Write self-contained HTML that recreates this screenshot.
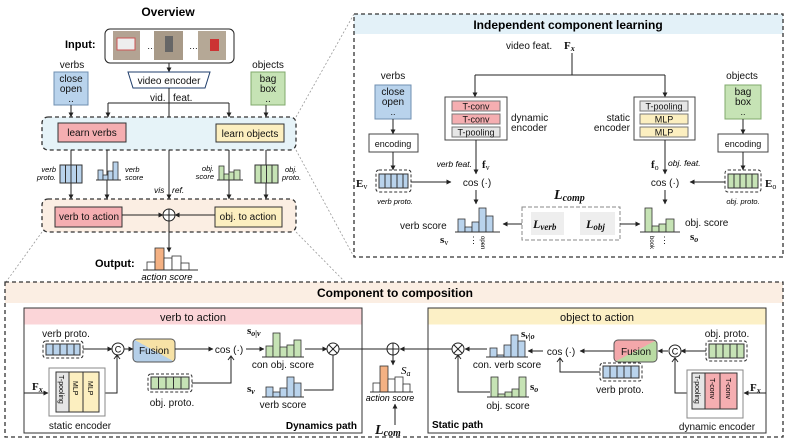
<!DOCTYPE html>
<html><head><meta charset="utf-8"><style>
html,body{margin:0;padding:0;background:#fff}
svg{display:block;font-family:"Liberation Sans",sans-serif}
.t{font-size:10px;fill:#111}
.s{font-size:9px;fill:#111}
.i{font-style:italic}
.m{font-family:"Liberation Serif",serif;font-weight:bold;fill:#111}
.b{font-weight:bold}
</style></head><body>
<svg width="789" height="442" viewBox="0 0 789 442" xmlns="http://www.w3.org/2000/svg">
<defs>
<marker id="a" viewBox="0 0 6 6" refX="5.5" refY="3" markerWidth="5" markerHeight="5" orient="auto"><path d="M0,0L6,3L0,6z" fill="#222"/></marker>
<linearGradient id="fv" x1="0" y1="1" x2="1" y2="0"><stop offset="0.5" stop-color="#b5cfe8"/><stop offset="0.5" stop-color="#f7e2a6"/></linearGradient>
<linearGradient id="fo" x1="0" y1="0" x2="1" y2="1"><stop offset="0.5" stop-color="#f3a7aa"/><stop offset="0.5" stop-color="#b9dba3"/></linearGradient>
</defs>
<g stroke="#222" stroke-width="1" fill="none">
<!-- zoom guide lines -->
<g stroke="#999" stroke-dasharray="2,2" stroke-width="0.8">
<line x1="296" y1="117" x2="354" y2="14"/><line x1="296" y1="150" x2="354" y2="257"/>
<line x1="42" y1="232" x2="6" y2="282"/><line x1="296" y1="232" x2="345" y2="282"/>
</g>
</g>

<!-- ================= OVERVIEW ================= -->
<text x="168" y="16" text-anchor="middle" class="b" font-size="12">Overview</text>
<text x="65" y="48" class="b" font-size="11">Input:</text>
<rect x="105" y="29" width="129" height="34" rx="5" fill="#fff" stroke="#222"/>
<rect x="113" y="31" width="27" height="29" fill="#b3a393"/><rect x="117" y="38" width="18" height="12" fill="#eee" stroke="#c55" stroke-width="1"/>
<text x="147" y="49" class="s">…</text>
<rect x="154" y="31" width="29" height="29" fill="#a89a88"/><rect x="165" y="36" width="8" height="16" fill="#666"/>
<text x="189" y="49" class="s">…</text>
<rect x="198" y="31" width="28" height="29" fill="#b5a896"/><rect x="210" y="39" width="9" height="12" fill="#c33"/>
<line x1="169" y1="63" x2="169" y2="72" stroke="#222" marker-end="url(#a)"/>
<path d="M128,72H210L205,88H133Z" fill="#fff" stroke="#1f3d6b"/>
<text x="169" y="84" text-anchor="middle" class="t">video encoder</text>
<text x="150" y="101" class="t">vid.</text><text x="173" y="101" class="t">feat.</text>
<text x="72" y="68" text-anchor="middle" class="t">verbs</text>
<rect x="54" y="72" width="34" height="33" fill="#b9d3ec" stroke="#6f8fb0"/>
<text x="71" y="82" text-anchor="middle" class="t">close</text><text x="71" y="92" text-anchor="middle" class="t">open</text><text x="71" y="102" text-anchor="middle" class="t">..</text>
<text x="268" y="68" text-anchor="middle" class="t">objects</text>
<rect x="251" y="72" width="34" height="33" fill="#c6e3b5" stroke="#80a86c"/>
<text x="268" y="82" text-anchor="middle" class="t">bag</text><text x="268" y="92" text-anchor="middle" class="t">box</text><text x="268" y="102" text-anchor="middle" class="t">..</text>
<g stroke="#222" fill="none">
<line x1="169" y1="88" x2="169" y2="208"/>
<path d="M108,103H229"/><line x1="108" y1="103" x2="108" y2="117" marker-end="url(#a)"/><line x1="229" y1="103" x2="229" y2="117" marker-end="url(#a)"/>
<line x1="71" y1="105" x2="71" y2="117" marker-end="url(#a)"/><line x1="266" y1="105" x2="266" y2="117" marker-end="url(#a)"/>
</g>
<rect x="42" y="117" width="254" height="33" rx="6" fill="#e6f3f8" stroke="#333" stroke-dasharray="4,3" stroke-width="1.3"/>
<rect x="58" y="123" width="68" height="19" fill="#f5aeb1" stroke="#333"/><text x="92" y="136" text-anchor="middle" class="t">learn verbs</text>
<rect x="216" y="124" width="68" height="18" fill="#fcefc0" stroke="#333"/><text x="250" y="137" text-anchor="middle" class="t">learn objects</text>
<g stroke="#222">
<line x1="71" y1="150" x2="71" y2="199" marker-end="url(#a)"/><line x1="107" y1="150" x2="107" y2="199" marker-end="url(#a)"/>
<line x1="229" y1="150" x2="229" y2="199" marker-end="url(#a)"/><line x1="266" y1="150" x2="266" y2="199" marker-end="url(#a)"/>
<line x1="169" y1="150" x2="169" y2="199" marker-end="url(#a)"/>
</g>
<g fill="#b9d3ec" stroke="#333"><rect x="60" y="165" width="22" height="18"/></g>
<g stroke="#333"><line x1="65.5" y1="165" x2="65.5" y2="183"/><line x1="71" y1="165" x2="71" y2="183"/><line x1="76.5" y1="165" x2="76.5" y2="183"/></g>
<text x="56" y="172" text-anchor="end" class="i" font-size="7.5">verb</text><text x="56" y="180" text-anchor="end" class="i" font-size="7.5">proto.</text>
<g fill="#b9d3ec" stroke="#333" stroke-width="0.8"><rect x="98" y="170" width="5" height="10"/><rect x="103" y="175" width="5" height="5"/><rect x="108" y="171" width="5" height="9"/><rect x="113" y="162" width="5" height="18"/></g>
<line x1="96" y1="180" x2="121" y2="180" stroke="#333"/>
<text x="125" y="172" class="i" font-size="7.5">verb</text><text x="125" y="180" class="i" font-size="7.5">score</text>
<text x="154" y="193" class="i" font-size="8.5">vis</text><text x="172" y="193" class="i" font-size="8.5">ref.</text>
<g fill="#c6e3b5" stroke="#333" stroke-width="0.8"><rect x="219" y="166" width="5" height="14"/><rect x="224" y="174" width="5" height="6"/><rect x="229" y="172" width="5" height="8"/><rect x="234" y="170" width="6" height="10"/></g>
<line x1="217" y1="180" x2="243" y2="180" stroke="#333"/>
<text x="214" y="171" text-anchor="end" class="i" font-size="7.5">obj.</text><text x="214" y="179" text-anchor="end" class="i" font-size="7.5">score</text>
<rect x="255" y="165" width="23" height="18" fill="#c6e3b5" stroke="#333"/>
<g stroke="#333"><line x1="261" y1="165" x2="261" y2="183"/><line x1="266.5" y1="165" x2="266.5" y2="183"/><line x1="272" y1="165" x2="272" y2="183"/></g>
<text x="285" y="172" class="i" font-size="7.5">obj.</text><text x="282" y="180" class="i" font-size="7.5">proto.</text>
<rect x="42" y="199" width="254" height="33" rx="6" fill="#fbeee3" stroke="#333" stroke-dasharray="4,3" stroke-width="1.3"/>
<rect x="55" y="207" width="67" height="20" fill="#f5aeb1" stroke="#333"/><text x="89" y="220" text-anchor="middle" class="t">verb to action</text>
<rect x="215" y="207" width="67" height="20" fill="#fcefc0" stroke="#333"/><text x="248" y="220" text-anchor="middle" class="t">obj. to action</text>
<g stroke="#222"><line x1="122" y1="215" x2="163" y2="215" marker-end="url(#a)"/><line x1="215" y1="215" x2="175" y2="215" marker-end="url(#a)"/>
<circle cx="169" cy="215" r="6" fill="#fff"/><line x1="163" y1="215" x2="175" y2="215"/><line x1="169" y1="209" x2="169" y2="221"/>
<line x1="169" y1="221" x2="169" y2="252" marker-end="url(#a)"/></g>
<text x="95" y="267" class="b" font-size="11">Output:</text>
<g stroke="#333" stroke-width="0.8"><rect x="147" y="262" width="8" height="8" fill="#fff"/><rect x="155" y="248" width="9" height="22" fill="#f4b183"/><rect x="164" y="258" width="8" height="12" fill="#fff"/><rect x="172" y="256" width="9" height="14" fill="#fff"/><rect x="181" y="263" width="8" height="7" fill="#fff"/></g>
<line x1="143" y1="270" x2="198" y2="270" stroke="#333"/>
<text x="167" y="280" text-anchor="middle" class="i" font-size="9.5">action score</text>

<!-- ================= INDEPENDENT ================= -->
<rect x="354" y="14" width="429" height="20" fill="#e3f1f8"/>
<rect x="354" y="14" width="429" height="243" fill="none" stroke="#333" stroke-dasharray="4,3" stroke-width="1.3"/>
<text x="568" y="29" text-anchor="middle" class="b" font-size="12">Independent component learning</text>
<text x="506" y="49" class="t">video feat.</text><text x="564" y="49" class="m" font-size="11">F<tspan font-size="8" dy="2" font-style="italic">x</tspan></text>
<g stroke="#222"><line x1="572" y1="53" x2="572" y2="75"/><line x1="475" y1="75" x2="665" y2="75"/>
<line x1="475" y1="75" x2="475" y2="97" marker-end="url(#a)"/><line x1="665" y1="75" x2="665" y2="97" marker-end="url(#a)"/></g>
<rect x="445" y="97" width="62" height="43" fill="#fff" stroke="#444"/>
<rect x="452" y="101" width="48" height="10" fill="#f5aeb1" stroke="#777"/><text x="476" y="109.5" text-anchor="middle" class="s">T-conv</text>
<rect x="452" y="114" width="48" height="10" fill="#f5aeb1" stroke="#777"/><text x="476" y="122.5" text-anchor="middle" class="s">T-conv</text>
<rect x="452" y="127" width="48" height="10" fill="#e6e6e6" stroke="#777"/><text x="476" y="135.5" text-anchor="middle" class="s">T-pooling</text>
<text x="511" y="121" class="t">dynamic</text><text x="511" y="131" class="t">encoder</text>
<rect x="634" y="97" width="61" height="43" fill="#fff" stroke="#444"/>
<rect x="640" y="101" width="48" height="10" fill="#e6e6e6" stroke="#777"/><text x="664" y="109.5" text-anchor="middle" class="s">T-pooling</text>
<rect x="640" y="114" width="48" height="10" fill="#fcefc0" stroke="#777"/><text x="664" y="122.5" text-anchor="middle" class="s">MLP</text>
<rect x="640" y="127" width="48" height="10" fill="#fcefc0" stroke="#777"/><text x="664" y="135.5" text-anchor="middle" class="s">MLP</text>
<text x="630" y="121" text-anchor="end" class="t">static</text><text x="630" y="131" text-anchor="end" class="t">encoder</text>
<text x="393" y="79" text-anchor="middle" class="t">verbs</text>
<rect x="375" y="85" width="36" height="34" fill="#b9d3ec" stroke="#6f8fb0"/>
<text x="393" y="95" text-anchor="middle" class="t">close</text><text x="393" y="105" text-anchor="middle" class="t">open</text><text x="393" y="115" text-anchor="middle" class="s">..</text>
<rect x="369" y="134" width="49" height="18" fill="#fff" stroke="#444"/><text x="393" y="147" text-anchor="middle" class="s">encoding</text>
<line x1="393" y1="119" x2="393" y2="134" stroke="#222" marker-end="url(#a)"/>
<line x1="393" y1="152" x2="393" y2="170" stroke="#222" marker-end="url(#a)"/>
<text x="742" y="79" text-anchor="middle" class="t">objects</text>
<rect x="725" y="85" width="36" height="34" fill="#c6e3b5" stroke="#80a86c"/>
<text x="743" y="95" text-anchor="middle" class="t">bag</text><text x="743" y="105" text-anchor="middle" class="t">box</text><text x="743" y="115" text-anchor="middle" class="s">..</text>
<rect x="718" y="134" width="50" height="18" fill="#fff" stroke="#444"/><text x="743" y="147" text-anchor="middle" class="s">encoding</text>
<line x1="743" y1="119" x2="743" y2="134" stroke="#222" marker-end="url(#a)"/>
<line x1="743" y1="152" x2="743" y2="170" stroke="#222" marker-end="url(#a)"/>
<!-- protos -->
<rect x="376" y="170" width="35" height="22" rx="3" fill="none" stroke="#333" stroke-dasharray="3,2"/>
<rect x="379" y="174" width="29" height="14" fill="#b9d3ec" stroke="#333"/>
<g stroke="#333"><line x1="385" y1="174" x2="385" y2="188"/><line x1="391" y1="174" x2="391" y2="188"/><line x1="397" y1="174" x2="397" y2="188"/><line x1="403" y1="174" x2="403" y2="188"/></g>
<text x="356" y="187" class="m" font-size="11">E<tspan font-size="8" dy="2" font-weight="normal">v</tspan></text>
<text x="395" y="204" text-anchor="middle" class="i" font-size="7.5">verb proto.</text>
<rect x="725" y="170" width="36" height="22" rx="3" fill="none" stroke="#333" stroke-dasharray="3,2"/>
<rect x="728" y="174" width="30" height="14" fill="#c6e3b5" stroke="#333"/>
<g stroke="#333"><line x1="734" y1="174" x2="734" y2="188"/><line x1="740" y1="174" x2="740" y2="188"/><line x1="746" y1="174" x2="746" y2="188"/><line x1="752" y1="174" x2="752" y2="188"/></g>
<text x="765" y="187" class="m" font-size="11">E<tspan font-size="8" dy="2" font-weight="normal">o</tspan></text>
<text x="743" y="204" text-anchor="middle" class="i" font-size="7.5">obj. proto.</text>
<!-- cos -->
<text x="477" y="186" text-anchor="middle" class="t">cos (·)</text>
<text x="665" y="186" text-anchor="middle" class="t">cos (·)</text>
<g stroke="#222">
<line x1="476" y1="140" x2="476" y2="174" marker-end="url(#a)"/><line x1="665" y1="140" x2="665" y2="174" marker-end="url(#a)"/>
<line x1="411" y1="182" x2="451" y2="182" marker-end="url(#a)"/><line x1="725" y1="182" x2="690" y2="182" marker-end="url(#a)"/>
<line x1="476" y1="190" x2="476" y2="204" marker-end="url(#a)"/><line x1="665" y1="190" x2="665" y2="204" marker-end="url(#a)"/>
</g>
<text x="472" y="167" text-anchor="end" class="i" font-size="8.5">verb feat.</text>
<text x="482" y="168" class="m" font-size="11">f<tspan font-size="8" dy="2" font-weight="normal">v</tspan></text>
<text x="651" y="168" class="m" font-size="11">f<tspan font-size="8" dy="2" font-weight="normal">o</tspan></text>
<text x="668" y="166" class="i" font-size="8.5">obj. feat.</text>
<text x="554" y="199" class="m i" font-size="14">L<tspan font-size="10" dy="2">comp</tspan></text>
<rect x="522" y="207" width="98" height="33" fill="none" stroke="#888" stroke-dasharray="4,2"/>
<rect x="531" y="212" width="33" height="23" fill="#eee"/><text x="533" y="228" class="m i" font-size="12">L<tspan font-size="9" dy="2">verb</tspan></text>
<rect x="580" y="212" width="35" height="23" fill="#eee"/><text x="586" y="228" class="m i" font-size="12">L<tspan font-size="9" dy="2">obj</tspan></text>
<line x1="522" y1="224" x2="503" y2="224" stroke="#222" marker-end="url(#a)"/>
<line x1="620" y1="224" x2="640" y2="224" stroke="#222" marker-end="url(#a)"/>
<g fill="#b9d3ec" stroke="#333" stroke-width="0.8"><rect x="458" y="219" width="7" height="13"/><rect x="465" y="227" width="7" height="5"/><rect x="472" y="222" width="7" height="10"/><rect x="479" y="208" width="7" height="24"/><rect x="486" y="216" width="7" height="16"/></g>
<line x1="455" y1="232" x2="500" y2="232" stroke="#333"/>
<text x="400" y="229" class="t">verb score</text>
<text x="440" y="243" class="m" font-size="11">s<tspan font-size="8" dy="2" font-weight="normal">v</tspan></text>
<text x="469" y="243" class="s">⋮</text>
<text transform="translate(481,236) rotate(90)" font-size="6">open</text>
<g fill="#c6e3b5" stroke="#333" stroke-width="0.8"><rect x="645" y="208" width="7" height="24"/><rect x="652" y="226" width="7" height="6"/><rect x="659" y="224" width="7" height="8"/><rect x="666" y="219" width="8" height="13"/></g>
<line x1="640" y1="232" x2="680" y2="232" stroke="#333"/>
<text x="685" y="226" class="t">obj. score</text>
<text x="690" y="240" class="m" font-size="11">s<tspan font-size="8" dy="2" font-style="italic">o</tspan></text>
<text transform="translate(650,236) rotate(90)" font-size="6">book</text>
<text x="660" y="243" class="s">⋮</text>

<!-- ================= COMPONENT TO COMPOSITION ================= -->
<rect x="5" y="282" width="778" height="21" fill="#fbeee3"/>
<rect x="5" y="282" width="778" height="155" fill="none" stroke="#333" stroke-dasharray="4,3" stroke-width="1.3"/>
<text x="395" y="297" text-anchor="middle" class="b" font-size="12">Component to composition</text>
<!-- verb to action -->
<rect x="24" y="308" width="338" height="125" fill="#fff" stroke="#333"/>
<rect x="24.5" y="308.5" width="337" height="16" fill="#fbd5d8"/>
<text x="193" y="321" text-anchor="middle" font-size="11" fill="#111">verb to action</text>
<text x="66" y="337" text-anchor="middle" class="t">verb proto.</text>
<rect x="43" y="341" width="40" height="17" rx="3" fill="none" stroke="#333" stroke-dasharray="3,2"/>
<rect x="46" y="344" width="34" height="11" fill="#b9d3ec" stroke="#333"/>
<g stroke="#333"><line x1="53" y1="344" x2="53" y2="355"/><line x1="60" y1="344" x2="60" y2="355"/><line x1="67" y1="344" x2="67" y2="355"/><line x1="74" y1="344" x2="74" y2="355"/></g>
<circle cx="118" cy="349" r="6" fill="#fff" stroke="#222"/><text x="118" y="352.5" text-anchor="middle" font-size="9">C</text>
<rect x="133" y="339" width="42" height="23" rx="4" fill="url(#fv)" stroke="#555"/>
<text x="154" y="354" text-anchor="middle" class="t">Fusion</text>
<text x="229" y="353" text-anchor="middle" class="t">cos (·)</text>
<text x="247" y="334" class="m" font-size="11">s<tspan font-size="8" dy="2" font-style="italic">o|v</tspan></text>
<g fill="#c6e3b5" stroke="#333" stroke-width="0.8"><rect x="266" y="346" width="7" height="11"/><rect x="273" y="333" width="7" height="24"/><rect x="280" y="347" width="7" height="10"/><rect x="287" y="345" width="7" height="12"/><rect x="294" y="340" width="7" height="17"/></g>
<line x1="262" y1="357" x2="304" y2="357" stroke="#333"/>
<text x="283" y="368" text-anchor="middle" class="t">con obj. score</text>
<g stroke="#222" fill="none">
<line x1="83" y1="349" x2="112" y2="349" marker-end="url(#a)"/>
<line x1="124" y1="349" x2="133" y2="349" marker-end="url(#a)"/>
<line x1="175" y1="349" x2="213" y2="349" marker-end="url(#a)"/>
<line x1="246" y1="349" x2="264" y2="349" marker-end="url(#a)"/>
<line x1="305" y1="349" x2="327" y2="349" marker-end="url(#a)"/>
<path d="M105,393H117V355"/><polyline points="114,359 117,355 120,359" fill="none"/>
<path d="M192,383H231V356"/><polyline points="228,360 231,356 234,360"/>
<path d="M304,390H333V355"/>
<line x1="339" y1="349" x2="387" y2="349"/>
<line x1="24" y1="393" x2="48" y2="393" marker-end="url(#a)"/>
</g>
<circle cx="333" cy="349" r="6" fill="#fff" stroke="#222"/>
<g stroke="#222"><line x1="329" y1="345" x2="337" y2="353"/><line x1="337" y1="345" x2="329" y2="353"/></g>
<text x="32" y="390" class="m" font-size="11">F<tspan font-size="8" dy="2" font-style="italic">x</tspan></text>
<rect x="49" y="368" width="56" height="48" fill="#fff" stroke="#888"/>
<rect x="56" y="372" width="13" height="40" fill="#e6e6e6" stroke="#333"/>
<rect x="69" y="372" width="14" height="40" fill="#fcefc0" stroke="#333"/>
<rect x="83" y="372" width="16" height="40" fill="#fcefc0" stroke="#333"/>
<text transform="translate(59,375) rotate(90)" font-size="7">T-pooling</text>
<text transform="translate(73,381) rotate(90)" font-size="7">MLP</text>
<text transform="translate(88,381) rotate(90)" font-size="7">MLP</text>
<text x="80" y="429" text-anchor="middle" class="t">static encoder</text>
<rect x="148" y="374" width="44" height="18" rx="3" fill="none" stroke="#333" stroke-dasharray="3,2"/>
<rect x="151" y="377" width="38" height="12" fill="#c6e3b5" stroke="#333"/>
<g stroke="#333"><line x1="158.5" y1="377" x2="158.5" y2="389"/><line x1="166" y1="377" x2="166" y2="389"/><line x1="173.5" y1="377" x2="173.5" y2="389"/><line x1="181" y1="377" x2="181" y2="389"/></g>
<text x="172" y="406" text-anchor="middle" class="t">obj. proto.</text>
<text x="247" y="392" class="m" font-size="11">s<tspan font-size="8" dy="2" font-style="italic">v</tspan></text>
<g fill="#b9d3ec" stroke="#333" stroke-width="0.8"><rect x="266" y="387" width="7" height="10"/><rect x="273" y="392" width="7" height="5"/><rect x="280" y="388" width="7" height="9"/><rect x="287" y="377" width="7" height="20"/><rect x="294" y="383" width="7" height="14"/></g>
<line x1="262" y1="397" x2="304" y2="397" stroke="#333"/>
<text x="283" y="408" text-anchor="middle" class="t">verb score</text>
<text x="357" y="429" text-anchor="end" class="b" font-size="10">Dynamics path</text>
<!-- middle -->
<circle cx="393" cy="349" r="6" fill="#fff" stroke="#222"/>
<g stroke="#222"><line x1="387" y1="349" x2="399" y2="349"/><line x1="393" y1="343" x2="393" y2="355"/><line x1="393" y1="355" x2="393" y2="365" marker-end="url(#a)"/>
<line x1="395" y1="425" x2="395" y2="404" marker-end="url(#a)"/></g>
<g stroke="#333" stroke-width="0.8"><rect x="373" y="383" width="7" height="9" fill="#fff"/><rect x="380" y="366" width="8" height="26" fill="#f4b183"/><rect x="388" y="379" width="7" height="13" fill="#fff"/><rect x="395" y="377" width="8" height="15" fill="#fff"/><rect x="403" y="384" width="7" height="8" fill="#fff"/></g>
<line x1="370" y1="392" x2="413" y2="392" stroke="#333"/>
<text x="401" y="374" font-family="Liberation Serif,serif" font-style="italic" font-size="11">S<tspan font-size="8" dy="2">a</tspan></text>
<text x="390" y="401" text-anchor="middle" class="i" font-size="9">action score</text>
<text x="375" y="434" class="m i" font-size="14">L<tspan font-size="10" dy="2">com</tspan></text>
<!-- object to action -->
<rect x="428" y="308" width="338" height="125" fill="#fff" stroke="#333"/>
<rect x="428.5" y="308.5" width="337" height="16" fill="#fcf0c6"/>
<text x="597" y="321" text-anchor="middle" font-size="11" fill="#111">object to action</text>
<circle cx="458" cy="349" r="6" fill="#fff" stroke="#222"/>
<g stroke="#222"><line x1="454" y1="345" x2="462" y2="353"/><line x1="462" y1="345" x2="454" y2="353"/></g>
<g stroke="#222" fill="none">
<line x1="452" y1="349" x2="400" y2="349" marker-end="url(#a)"/>
<line x1="487" y1="349" x2="465" y2="349" marker-end="url(#a)"/>
<line x1="543" y1="351" x2="528" y2="351" marker-end="url(#a)"/>
<line x1="614" y1="351" x2="580" y2="351" marker-end="url(#a)"/>
<line x1="668" y1="351" x2="658" y2="351" marker-end="url(#a)"/>
<line x1="706" y1="351" x2="681" y2="351" marker-end="url(#a)"/>
<path d="M600,372H560V358"/><polyline points="557,362 560,358 563,362"/>
<path d="M490,392H458V355"/><polyline points="455,359 458,355 461,359"/>
<path d="M687,393H675V358"/><polyline points="672,362 675,358 678,362"/>
<line x1="766" y1="393" x2="744" y2="393" marker-end="url(#a)"/>
</g>
<text x="521" y="337" class="m" font-size="11">s<tspan font-size="8" dy="2" font-style="italic">v|o</tspan></text>
<g fill="#b9d3ec" stroke="#333" stroke-width="0.8"><rect x="490" y="348" width="7" height="9"/><rect x="497" y="355" width="7" height="2"/><rect x="504" y="345" width="7" height="12"/><rect x="511" y="335" width="7" height="22"/><rect x="518" y="341" width="7" height="16"/></g>
<line x1="486" y1="357" x2="528" y2="357" stroke="#333"/>
<text x="507" y="368" text-anchor="middle" class="t">con. verb score</text>
<text x="561" y="355" text-anchor="middle" class="t">cos (·)</text>
<rect x="614" y="340" width="43" height="22" rx="4" fill="url(#fo)" stroke="#555"/>
<text x="636" y="355" text-anchor="middle" class="t">Fusion</text>
<circle cx="675" cy="351" r="6" fill="#fff" stroke="#222"/><text x="675" y="354.5" text-anchor="middle" font-size="9">C</text>
<text x="727" y="337" text-anchor="middle" class="t">obj. proto.</text>
<rect x="706" y="341" width="41" height="20" rx="3" fill="none" stroke="#333" stroke-dasharray="3,2"/>
<rect x="709" y="344" width="35" height="14" fill="#c6e3b5" stroke="#333"/>
<g stroke="#333"><line x1="716" y1="344" x2="716" y2="358"/><line x1="723" y1="344" x2="723" y2="358"/><line x1="730" y1="344" x2="730" y2="358"/><line x1="737" y1="344" x2="737" y2="358"/></g>
<rect x="600" y="363" width="42" height="18" rx="3" fill="none" stroke="#333" stroke-dasharray="3,2"/>
<rect x="603" y="366" width="36" height="12" fill="#b9d3ec" stroke="#333"/>
<g stroke="#333"><line x1="610" y1="366" x2="610" y2="378"/><line x1="617" y1="366" x2="617" y2="378"/><line x1="624" y1="366" x2="624" y2="378"/><line x1="631" y1="366" x2="631" y2="378"/></g>
<text x="620" y="393" text-anchor="middle" class="t">verb proto.</text>
<g fill="#c6e3b5" stroke="#333" stroke-width="0.8"><rect x="491" y="377" width="7" height="20"/><rect x="498" y="394" width="7" height="3"/><rect x="505" y="392" width="7" height="5"/><rect x="512" y="389" width="7" height="8"/><rect x="519" y="377" width="7" height="20"/></g>
<line x1="487" y1="397" x2="529" y2="397" stroke="#333"/>
<text x="530" y="390" class="m" font-size="11">s<tspan font-size="8" dy="2" font-style="italic">o</tspan></text>
<text x="508" y="409" text-anchor="middle" class="t">obj. score</text>
<text x="432" y="428" class="b" font-size="10">Static path</text>
<rect x="687" y="370" width="56" height="48" fill="#fff" stroke="#888"/>
<rect x="692" y="373" width="13" height="36" fill="#e6e6e6" stroke="#333"/>
<rect x="705" y="373" width="15" height="36" fill="#f5aeb1" stroke="#333"/>
<rect x="720" y="373" width="17" height="36" fill="#f5aeb1" stroke="#333"/>
<text transform="translate(695,375) rotate(90)" font-size="7">T-pooling</text>
<text transform="translate(710,378) rotate(90)" font-size="7">T-conv</text>
<text transform="translate(726,378) rotate(90)" font-size="7">T-conv</text>
<text x="717" y="430" text-anchor="middle" class="t">dynamic encoder</text>
<text x="750" y="391" class="m" font-size="11">F<tspan font-size="8" dy="2" font-style="italic">x</tspan></text>
</svg>
</body></html>
